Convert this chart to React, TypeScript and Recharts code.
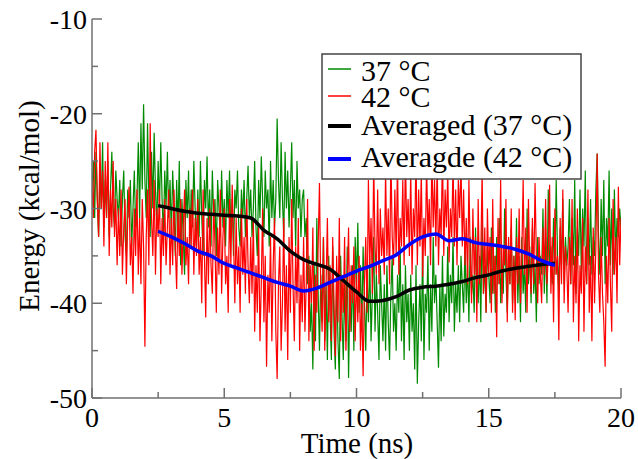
import React from "react";
import { LineChart, Line, XAxis, YAxis } from "recharts";

// Raw traces sampled every 0.05 ns (0 … 20 ns)
const rawStep = 0.05;

const energy37: number[] = [
  -28, -25, -31, -24, -29, -33, -26, -30, -23, -32, -27, -31, -25, -33, -28, -24, -30, -32, -26, -29,
  -31, -27, -34, -29, -26, -33, -35, -28, -31, -27, -34, -30, -26, -32, -29, -23, -31, -21, -28, -19,
  -27, -31, -21, -29, -33, -24, -30, -22, -28, -32, -25, -30, -23, -29, -33, -26, -30, -24, -31, -27,
  -33, -26, -30, -35, -27, -32, -25, -36, -29, -33, -37, -27, -31, -26, -34, -28, -32, -25, -30, -34,
  -28, -33, -25, -31, -35, -27, -30, -24.5, -32, -28, -34, -26, -31, -29, -35, -27, -30, -33, -26, -32,
  -29, -34, -27, -31, -26, -33, -29, -35, -28, -30, -26, -32, -34, -28, -31, -27, -33, -29, -25.5, -31,
  -28, -33, -30, -25, -32, -35, -27, -31, -24.5, -29, -33, -26, -30, -28, -34, -25, -31, -27, -32, -29,
  -20.5, -27, -31, -23, -29, -33, -24, -30, -26, -32, -28, -23, -31, -27, -34, -25, -30, -28, -33, -29,
  -28, -33, -31, -38, -35, -43, -40, -47, -36, -44, -31, -39, -45, -37, -42, -33, -44, -38, -46, -35,
  -41, -46, -34, -43, -47, -37, -44, -48, -35, -41, -46, -38, -44, -34, -47.9, -39, -43, -36, -45, -33,
  -38, -31.5, -41, -36, -43, -34, -40, -45, -37, -42, -35, -44, -39, -33, -43, -37, -41, -46, -36, -40,
  -44, -38, -45, -36, -42, -46, -39, -35, -43, -40, -45, -37, -41, -34, -44, -38, -46, -36, -42, -39,
  -45, -37, -43, -40, -47, -36, -48.5, -42, -38, -44, -34, -46, -39, -41, -35, -45, -38, -43, -33, -40,
  -37, -42, -46.8, -38, -44, -35, -43.5, -39, -41, -34, -42, -37, -40, -33, -43, -38, -41, -36, -42, -35,
  -38, -41, -34, -40, -36, -42, -33, -39, -37, -41, -32, -38, -40, -35, -42, -31, -39, -36, -41, -34,
  -37, -40, -32, -39, -35, -41, -33, -38, -31, -40, -36, -39, -30, -37, -41, -34, -38, -32, -40, -35,
  -38, -31, -40, -35, -42, -33, -39, -36, -41, -30, -38, -34, -40, -32, -39, -36, -42, -33, -38, -35,
  -37, -30, -39, -33, -40, -28, -36, -34, -38, -31, -37, -27, -35, -39, -32, -36, -29, -38, -33, -36,
  -34, -29, -38, -31, -36, -27, -39, -32, -35, -28, -37, -30, -34, -26, -38, -31, -36, -29, -37, -33,
  -35, -28, -24.2, -33, -37, -29, -35, -27, -38, -31, -34, -26, -36, -30, -37, -28, -35, -31, -33, -30,
  -32,
];

const energy42: number[] = [
  -27, -31, -24, -21.7, -29, -33, -23, -30, -26, -34, -25, -31, -23, -35, -28, -32, -25, -33, -29, -36,
  -30, -35, -28, -37, -32, -29, -38, -31, -27.7, -36, -33, -39, -30, -35, -28, -37, -31, -38, -29, -34,
  -44.6, -33, -28, -36, -21, -31, -35, -27, -37, -30, -33, -28, -38, -31, -35, -29, -36, -32, -28, -37,
  -31, -36, -28, -34, -38.5, -30, -35, -29, -37, -32, -28, -36, -33, -38, -30, -34, -28, -37, -31, -35,
  -29, -37, -33, -40, -28, -35, -41.5, -31, -38, -30, -36, -39, -29, -34, -41, -32, -37, -28, -39, -33,
  -30, -38, -35, -41, -29, -36, -27.5, -33, -40, -31, -38, -34, -41, -30, -37, -33, -39, -29, -36, -40,
  -33, -39, -31, -43, -36, -41, -32, -44, -38, -30, -42, -35, -46.7, -37, -41, -33, -44, -36, -31, -43,
  -48, -38, -34, -45, -40, -31, -43, -36, -46, -33, -41, -29, -38, -44, -34, -40, -31, -45, -37, -42,
  -33, -43, -38, -29, -44, -36, -40, -32, -45, -37, -41, -34, -27.3, -39, -43, -33, -45, -38, -31, -42,
  -36, -44, -33, -40, -45.6, -35, -42, -31, -44, -37, -41, -33, -45, -38, -32, -43, -36, -40, -34, -44,
  -37, -42, -35, -45, -40, -47.7, -38, -33, -41, -27, -36, -31, -39, -25, -34, -37, -28, -38, -30, -35,
  -32, -37, -26, -35, -30, -38, -24, -33, -36, -28, -35, -25, -37, -31, -34, -27, -36, -24, -33, -29,
  -35, -26, -37, -30, -33, -24, -36, -28, -34, -26, -37.2, -31, -35, -25, -33, -29, -36, -24, -32, -27,
  -34, -25, -36, -30, -33, -24, -35, -28, -32, -26, -35.7, -30, -33, -25, -34, -28, -36, -27, -31, -25,
  -34, -28, -36, -31, -38, -27, -35, -40, -30, -37, -33, -42, -29, -38, -35, -26, -39, -32, -41, -30,
  -37, -33, -41, -29, -39, -35, -43.6, -31, -38, -27, -40, -34, -36, -29, -42, -33, -38, -30, -41, -35,
  -41.8, -33, -38, -30, -40, -35, -27, -37, -32, -41, -29, -36, -39, -31, -38, -27.3, -35, -40, -33, -37,
  -40, -32, -37, -29, -38, -35, -27.5, -39, -33, -42, -30, -37, -35, -43.9, -31, -38, -28, -40, -34, -36,
  -41, -33, -38, -29, -42, -35, -40, -30, -44, -36, -39, -31, -43, -34, -38, -28, -41, -35, -44, -32,
  -40, -34, -24.2, -37, -41, -33, -39, -42, -46.7, -35, -40, -31, -38, -43, -29, -37, -33, -40, -27.7, -36,
  -31,
];

// Running averages, every 0.5 ns from 2.5 to 17.5 ns
const avgTimes: number[] = [
  2.5, 3, 3.5, 4, 4.5, 5, 5.5, 6, 6.5, 7, 7.5, 8, 8.5, 9, 9.5, 10,
  10.5, 11, 11.5, 12, 12.5, 13, 13.5, 14, 14.5, 15, 15.5, 16, 16.5, 17, 17.5,
];
const avg37: number[] = [
  -29.7, -30.0, -30.3, -30.5, -30.6, -30.7, -30.8, -31.0, -32.3, -33.2, -34.5, -35.4, -35.9, -36.4, -37.6, -38.8,
  -39.8, -39.7, -39.3, -38.6, -38.3, -38.2, -38.0, -37.7, -37.3, -37.0, -36.6, -36.3, -36.1, -35.9, -35.8,
];
const avg42: number[] = [
  -32.4, -33.0, -33.7, -34.5, -35.0, -35.8, -36.3, -36.8, -37.3, -37.8, -38.2, -38.7, -38.4, -37.8, -37.2, -36.6,
  -36.1, -35.5, -34.9, -33.8, -33.0, -32.7, -33.4, -33.2, -33.6, -33.8, -34.0, -34.3, -34.8, -35.5, -36.0,
];

const xTicks: number[] = [0, 2.5, 5, 7.5, 10, 12.5, 15, 17.5, 20];
const yTicks: number[] = [-50, -45, -40, -35, -30, -25, -20, -15, -10];

const legendLabels: string[] = ["37 °C", "42 °C", "Averaged (37 °C)", "Averagde (42 °C)"];
const seriesColors: string[] = ["#008a00", "#ff0000", "#000000", "#0000ff"];

const raw37 = energy37.map((v, i) => ({ t: Math.round(i * rawStep * 100) / 100, e: v }));
const raw42 = energy42.map((v, i) => ({ t: Math.round(i * rawStep * 100) / 100, e: v }));
const av37 = avgTimes.map((t, i) => ({ t, e: avg37[i] }));
const av42 = avgTimes.map((t, i) => ({ t, e: avg42[i] }));

const FONT = "Liberation Serif, DejaVu Serif, serif";
const FRAME = "#707070";

const isMajor = (v: number, step: number) => Math.abs(v / step - Math.round(v / step)) < 1e-6;

const BottomTick = (p: any) => {
  const v = p.payload.value;
  const major = isMajor(v, 5);
  return (
    <g>
      <line x1={p.x} x2={p.x} y1={p.y} y2={p.y - (major ? 10 : 6)} stroke={FRAME} strokeWidth={1.5} />
      {major && (
        <text x={p.x} y={p.y + 29} textAnchor="middle" style={{ fontFamily: FONT, fontSize: 28 }} fill="#000">
          {v}
        </text>
      )}
    </g>
  );
};

const TopTick = (p: any) => {
  const v = p.payload.value;
  const major = isMajor(v, 5);
  return <line x1={p.x} x2={p.x} y1={p.y} y2={p.y + (major ? 10 : 6)} stroke={FRAME} strokeWidth={1.5} />;
};

const LeftTick = (p: any) => {
  const v = p.payload.value;
  const major = isMajor(v, 10);
  return (
    <g>
      <line x1={p.x} x2={p.x + (major ? 10 : 6)} y1={p.y} y2={p.y} stroke={FRAME} strokeWidth={1.5} />
      {major && (
        <text x={p.x - 5} y={p.y + 10} textAnchor="end" style={{ fontFamily: FONT, fontSize: 28 }} fill="#000">
          {v}
        </text>
      )}
    </g>
  );
};

const RightTick = (p: any) => {
  const v = p.payload.value;
  const major = isMajor(v, 10);
  return <line x1={p.x} x2={p.x - (major ? 10 : 6)} y1={p.y} y2={p.y} stroke={FRAME} strokeWidth={1.5} />;
};

export default function App() {
  return (
    <div style={{ position: "fixed", left: 0, top: 0, width: 638, height: 459, background: "#fff" }}>
      <LineChart width={638} height={459} margin={{ top: 19, right: 17, bottom: 0, left: 0 }}>
        <XAxis
          dataKey="t"
          type="number"
          domain={[0, 20]}
          ticks={xTicks}
          interval={0}
          allowDataOverflow
          height={61}
          tickSize={0}
          tickMargin={0}
          tick={BottomTick}
          axisLine={{ stroke: FRAME, strokeWidth: 1.5 }}
        />
        <XAxis
          xAxisId="top"
          orientation="top"
          dataKey="t"
          type="number"
          domain={[0, 20]}
          ticks={xTicks}
          interval={0}
          height={0}
          tickSize={0}
          tickMargin={0}
          tick={TopTick}
          axisLine={{ stroke: FRAME, strokeWidth: 1.5 }}
        />
        <YAxis
          type="number"
          domain={[-50, -10]}
          ticks={yTicks}
          interval={0}
          allowDataOverflow
          width={92}
          tickSize={0}
          tickMargin={0}
          tick={LeftTick}
          axisLine={{ stroke: FRAME, strokeWidth: 1.5 }}
        />
        <YAxis
          yAxisId="right"
          orientation="right"
          type="number"
          domain={[-50, -10]}
          ticks={yTicks}
          interval={0}
          width={0}
          tickSize={0}
          tickMargin={0}
          tick={RightTick}
          axisLine={{ stroke: FRAME, strokeWidth: 1.5 }}
        />
        <Line data={raw37} dataKey="e" stroke={seriesColors[0]} strokeWidth={1.2} dot={false} isAnimationActive={false} type="linear" />
        <Line data={raw42} dataKey="e" stroke={seriesColors[1]} strokeWidth={1.2} dot={false} isAnimationActive={false} type="linear" />
        <Line data={av37} dataKey="e" stroke={seriesColors[2]} strokeWidth={3.5} dot={false} isAnimationActive={false} type="monotone" />
        <Line data={av42} dataKey="e" stroke={seriesColors[3]} strokeWidth={3.5} dot={false} isAnimationActive={false} type="monotone" />
      </LineChart>
      <svg width={638} height={459} style={{ position: "absolute", left: 0, top: 0, pointerEvents: "none" }}>
        <text x={357} y={453} textAnchor="middle" style={{ fontFamily: FONT, fontSize: 29 }} fill="#000">
          Time (ns)
        </text>
        <text x={39} y={206} textAnchor="middle" style={{ fontFamily: FONT, fontSize: 29 }} fill="#000" transform="rotate(-90 39 206)">
          Energy (kcal/mol)
        </text>
        <rect x={322} y={54} width={259} height={125} fill="#fff" stroke="#444" strokeWidth={1.5} />
        {legendLabels.map((lab, i) => {
          const lineY = [69, 96, 126, 159][i];
          const textY = [81, 107, 135, 167][i];
          return (
            <g key={lab}>
              <line x1={328} x2={351} y1={lineY} y2={lineY} stroke={seriesColors[i]} strokeWidth={i < 2 ? 1.5 : 4} />
              <text x={361} y={textY} style={{ fontFamily: FONT, fontSize: 30 }} fill="#000">
                {lab}
              </text>
            </g>
          );
        })}
      </svg>
    </div>
  );
}
